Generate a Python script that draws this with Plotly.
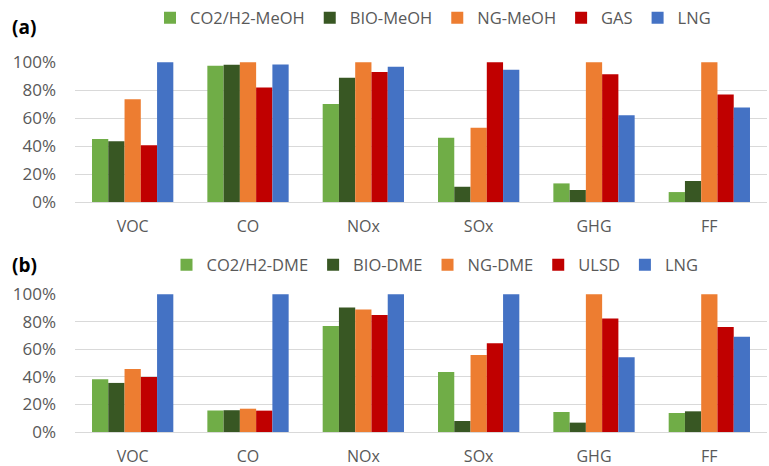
import plotly.graph_objects as go

categories = ["VOC", "CO", "NOx", "SOx", "GHG", "FF"]

series_a_names = ["CO2/H2-MeOH", "BIO-MeOH", "NG-MeOH", "GAS", "LNG"]
series_a_values = [
    [0.45, 0.974, 0.70, 0.46, 0.133, 0.071],
    [0.434, 0.981, 0.888, 0.109, 0.086, 0.15],
    [0.735, 1.0, 1.0, 0.53, 1.0, 1.0],
    [0.406, 0.819, 0.929, 1.0, 0.914, 0.769],
    [1.0, 0.983, 0.967, 0.945, 0.621, 0.676],
]

series_b_names = ["CO2/H2-DME", "BIO-DME", "NG-DME", "ULSD", "LNG"]
series_b_values = [
    [0.383, 0.156, 0.768, 0.435, 0.145, 0.138],
    [0.356, 0.158, 0.903, 0.08, 0.068, 0.15],
    [0.457, 0.169, 0.889, 0.558, 1.0, 1.0],
    [0.399, 0.155, 0.848, 0.643, 0.824, 0.761],
    [1.0, 1.0, 1.0, 1.0, 0.543, 0.691],
]

colors = ["#70ad47", "#385723", "#ed7d31", "#c00000", "#4472c4"]
y_ticks = [0, 0.2, 0.4, 0.6, 0.8, 1.0]
y_tick_labels = ["0%", "20%", "40%", "60%", "80%", "100%"]

W, H = 769, 466
ml, mr, mt, mb = 75, 2, 20, 34
pw, ph = W - ml - mr, H - mt - mb


def py(pix):
    return (H - mb - pix) / ph


def px(pix):
    return (pix - ml) / pw


fig = go.Figure()
for name, vals, c in zip(series_a_names, series_a_values, colors):
    fig.add_trace(go.Bar(x=categories, y=vals, name=name, marker_color=c,
                         marker_line_width=0, xaxis="x", yaxis="y", legend="legend"))
for name, vals, c in zip(series_b_names, series_b_values, colors):
    fig.add_trace(go.Bar(x=categories, y=vals, name=name, marker_color=c,
                         marker_line_width=0, xaxis="x2", yaxis="y2", legend="legend2"))

font_family = "Open Sans, Noto Sans, sans-serif"
ytick_font = dict(family=font_family, size=17, color="#595959")
xtick_font = dict(family=font_family, size=16, color="#595959")

yax = dict(range=[0, 1.001], tickvals=y_ticks, ticktext=y_tick_labels,
           showgrid=True, gridcolor="#d9d9d9", gridwidth=1, zeroline=False,
           tickfont=ytick_font, ticks="", ticklabelstandoff=18, fixedrange=True)
xax = dict(showgrid=False, showline=True, linecolor="#d9d9d9", linewidth=1,
           tickfont=xtick_font, ticks="", ticklabelstandoff=10, fixedrange=True)

legend_font = dict(family=font_family, size=16.5, color="#595959")

fig.update_layout(
    width=W, height=H,
    margin=dict(l=ml, r=mr, t=mt, b=mb, autoexpand=False),
    paper_bgcolor="white", plot_bgcolor="white",
    barmode="group", bargap=0.295, bargroupgap=0,
    font=dict(family=font_family, size=17, color="#595959"),
    xaxis=dict(domain=[0, 1], anchor="y", **xax),
    yaxis=dict(domain=[py(202), py(62)], anchor="x", **yax),
    xaxis2=dict(domain=[0, 1], anchor="y2", **xax),
    yaxis2=dict(domain=[py(432), py(294)], anchor="x2", **yax),
    legend=dict(orientation="h", x=px(433), xanchor="center", y=py(18), yanchor="middle",
                font=legend_font, traceorder="normal", bgcolor="rgba(0,0,0,0)"),
    legend2=dict(orientation="h", x=px(435), xanchor="center", y=py(265), yanchor="middle",
                 font=legend_font, traceorder="normal", bgcolor="rgba(0,0,0,0)"),
    annotations=[
        dict(text="<b>(a)</b>", x=px(10), y=py(27), xref="paper", yref="paper",
             xanchor="left", yanchor="middle", showarrow=False,
             font=dict(family=font_family, size=19, color="#000000")),
        dict(text="<b>(b)</b>", x=px(10), y=py(265), xref="paper", yref="paper",
             xanchor="left", yanchor="middle", showarrow=False,
             font=dict(family=font_family, size=19, color="#000000")),
    ],
)

fig.write_html("out.html", config={"displayModeBar": False},
               post_script="document.body.style.margin='0';")
